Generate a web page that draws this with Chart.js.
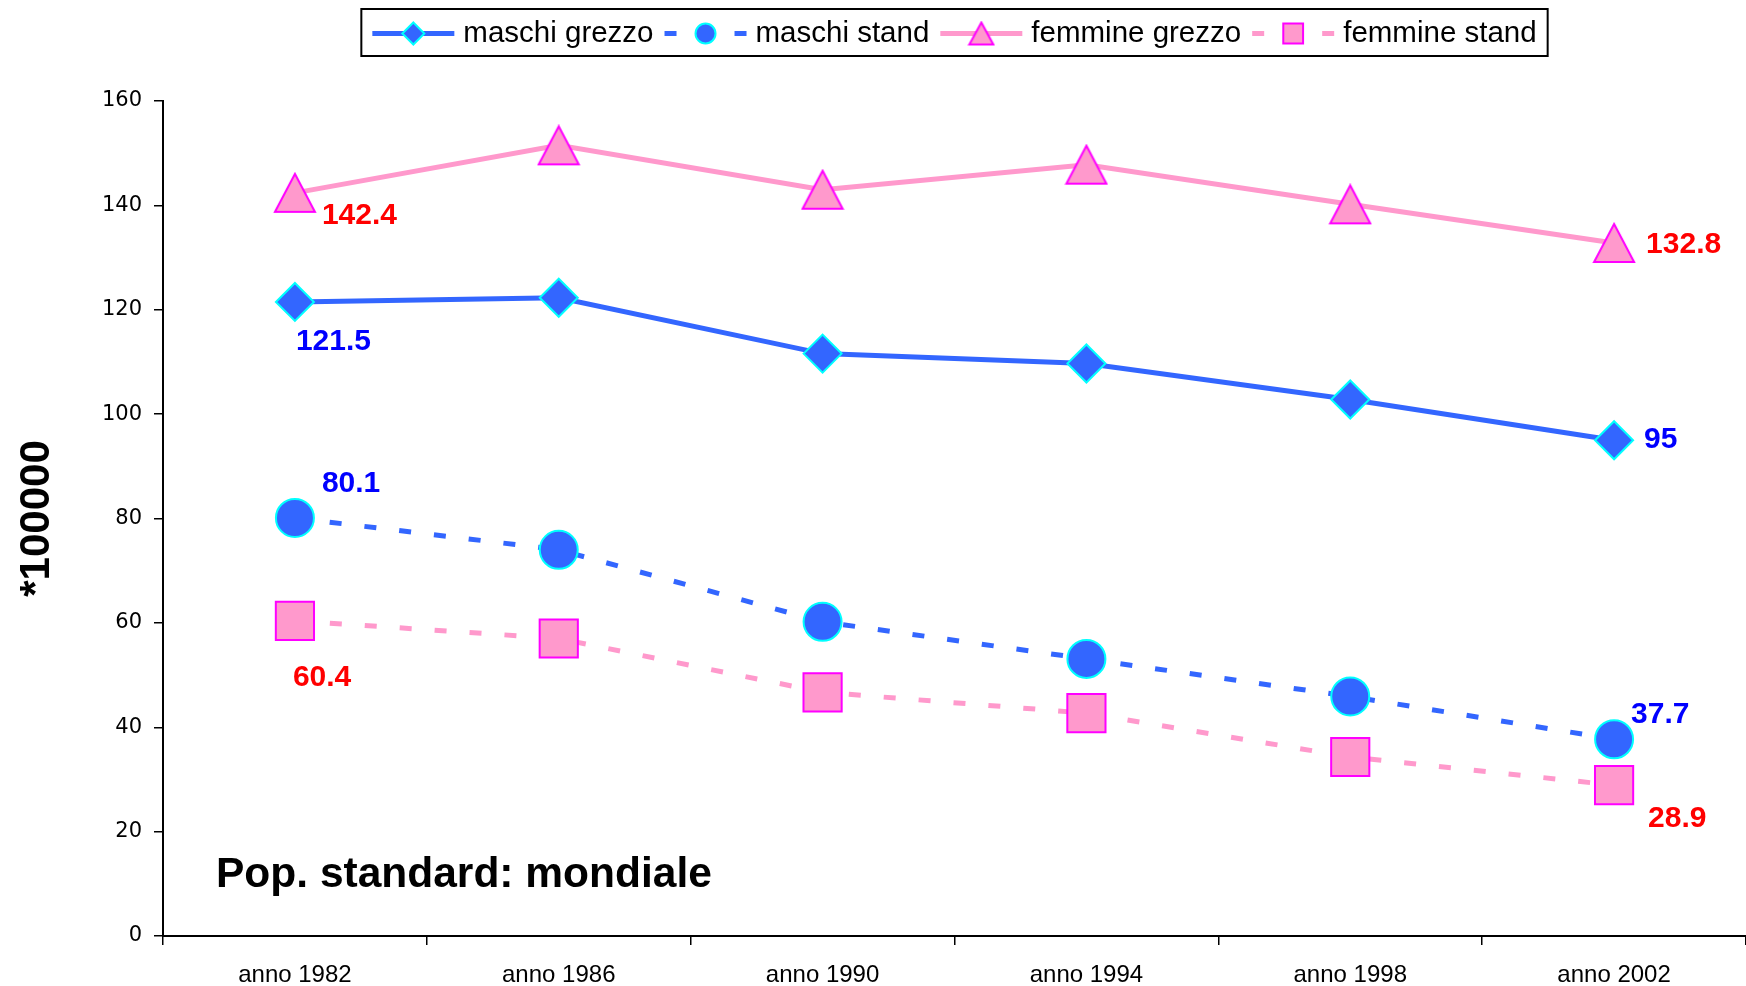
<!DOCTYPE html>
<html>
<head>
<meta charset="utf-8">
<script src="https://cdn.jsdelivr.net/npm/chart.js@4.4.0/dist/chart.umd.min.js"></script>
<style>
  html, body { margin: 0; padding: 0; background: #fff; }
  #wrap { width: 1746px; height: 986px; }
</style>
</head>
<body>
<div id="wrap"><canvas id="chart" width="1746" height="986"></canvas></div>
<script>
// dati (tassi *100000)
const anni = ['anno 1982', 'anno 1986', 'anno 1990', 'anno 1994', 'anno 1998', 'anno 2002'];
const maschiGrezzo = [121.5, 122.3, 111.6, 109.7, 102.8, 95];
const maschiStand = [80.1, 74.0, 60.2, 53.1, 45.9, 37.7];
const femmineGrezzo = [142.4, 151.5, 143.0, 147.8, 140.2, 132.8];
const femmineStand = [60.4, 57.0, 46.7, 42.7, 34.3, 28.9];
const yMin = 0, yMax = 160, yStep = 20;

const BLU = '#3366FF', CIANO = '#00FFFF', ROSA = '#FF99CC', MAGENTA = '#FF00FF';
const FONT = '"Liberation Sans", Arial, sans-serif';

// triangolo centrato sul suo riquadro (come in Excel)
function triangolo(w, h, fill, stroke, bw) {
  const c = document.createElement('canvas');
  c.width = w + bw * 2; c.height = h + bw * 2;
  const g = c.getContext('2d');
  g.beginPath();
  g.moveTo(c.width / 2, bw);
  g.lineTo(c.width - bw, c.height - bw);
  g.lineTo(bw, c.height - bw);
  g.closePath();
  g.fillStyle = fill; g.fill();
  g.lineWidth = bw; g.strokeStyle = stroke; g.stroke();
  return c;
}

function disegnaMarker(ctx, stile, x, y, r, fill, stroke, bw) {
  if (stile instanceof HTMLCanvasElement) {
    ctx.drawImage(stile, x - stile.width / 2, y - stile.height / 2);
    return;
  }
  ctx.save();
  ctx.setLineDash([]);
  ctx.beginPath();
  if (stile === 'circle') {
    ctx.arc(x, y, r, 0, Math.PI * 2);
  } else if (stile === 'rectRot') {
    ctx.moveTo(x, y - r); ctx.lineTo(x + r, y); ctx.lineTo(x, y + r); ctx.lineTo(x - r, y);
    ctx.closePath();
  } else {
    const s = r * Math.SQRT1_2;
    ctx.rect(x - s, y - s, 2 * s, 2 * s);
  }
  ctx.fillStyle = fill; ctx.fill();
  ctx.lineWidth = bw; ctx.strokeStyle = stroke; ctx.stroke();
  ctx.restore();
}

const triGrande = triangolo(40, 38, ROSA, MAGENTA, 2);
const triPiccolo = triangolo(24, 22, ROSA, MAGENTA, 2);

const datasets = [
  {
    label: 'maschi grezzo', data: maschiGrezzo,
    borderColor: BLU, borderWidth: 5,
    pointStyle: 'rectRot', pointRadius: 19, pointBackgroundColor: BLU, pointBorderColor: CIANO, pointBorderWidth: 2,
    legenda: { stile: 'rectRot', r: 11 },
    etichette: { colore: '#0000FF', primo: [1, 40], ultimo: [30, 0] }
  },
  {
    label: 'maschi stand', data: maschiStand,
    borderColor: BLU, borderWidth: 5, borderDash: [12, 23],
    pointStyle: 'circle', pointRadius: 19, pointBackgroundColor: BLU, pointBorderColor: CIANO, pointBorderWidth: 2,
    legenda: { stile: 'circle', r: 10 },
    etichette: { colore: '#0000FF', primo: [27, -34], ultimo: [17, -25] }
  },
  {
    label: 'femmine grezzo', data: femmineGrezzo,
    borderColor: ROSA, borderWidth: 5,
    pointStyle: triGrande, pointRadius: 20, pointBackgroundColor: ROSA, pointBorderColor: MAGENTA, pointBorderWidth: 2,
    legenda: { stile: triPiccolo, r: 11 },
    etichette: { colore: '#FF0000', primo: [27, 23], ultimo: [32, 2] }
  },
  {
    label: 'femmine stand', data: femmineStand,
    borderColor: ROSA, borderWidth: 5, borderDash: [12, 23],
    pointStyle: 'rect', pointRadius: 27, pointBackgroundColor: ROSA, pointBorderColor: MAGENTA, pointBorderWidth: 2,
    legenda: { stile: 'rect', r: 14 },
    etichette: { colore: '#FF0000', primo: [-2, 57], ultimo: [34, 34] }
  }
];

const extra = {
  id: 'extra',
  afterDatasetsDraw(chart) {
    const ctx = chart.ctx;
    ctx.save();
    ctx.font = 'bold 30px ' + FONT;
    ctx.textAlign = 'left';
    ctx.textBaseline = 'middle';
    chart.data.datasets.forEach((ds, i) => {
      const pts = chart.getDatasetMeta(i).data;
      const e = ds.etichette;
      ctx.fillStyle = e.colore;
      [[0, e.primo], [pts.length - 1, e.ultimo]].forEach(([k, off]) => {
        ctx.fillText(String(ds.data[k]), pts[k].x + off[0], pts[k].y + off[1]);
      });
    });
    // nota
    ctx.fillStyle = '#000';
    ctx.font = 'bold 42.5px ' + FONT;
    ctx.fillText('Pop. standard: mondiale', chart.chartArea.left + 53, chart.chartArea.bottom - 61);
    ctx.restore();
  },
  afterDraw(chart) {
    const ctx = chart.ctx;
    const area = chart.chartArea;
    ctx.save();
    ctx.font = '29.5px ' + FONT;
    const campione = 82, gapTesto = 9, gapVoce = 11, padX = 11;
    const dsets = chart.data.datasets;
    const larg = dsets.map(d => ctx.measureText(d.label).width);
    let tot = padX * 2 + gapVoce * (dsets.length - 1);
    larg.forEach(w => { tot += campione + gapTesto + w; });
    const x0 = (area.left + area.right) / 2 - tot / 2;
    const top = 9, alt = 47, cy = top + alt / 2 + 1;
    ctx.lineWidth = 2;
    ctx.strokeStyle = '#000';
    ctx.strokeRect(x0, top, tot, alt);
    let x = x0 + padX;
    dsets.forEach((d, i) => {
      ctx.save();
      ctx.strokeStyle = d.borderColor;
      ctx.lineWidth = 5;
      ctx.setLineDash(d.borderDash || []);
      ctx.beginPath();
      ctx.moveTo(x, cy); ctx.lineTo(x + campione, cy);
      ctx.stroke();
      ctx.restore();
      disegnaMarker(ctx, d.legenda.stile, x + campione / 2, cy, d.legenda.r,
        d.pointBackgroundColor, d.pointBorderColor, 2);
      ctx.fillStyle = '#000';
      ctx.textAlign = 'left';
      ctx.textBaseline = 'middle';
      ctx.fillText(d.label, x + campione + gapTesto, cy);
      x += campione + gapTesto + larg[i] + gapVoce;
    });
    ctx.restore();
  }
};

new Chart(document.getElementById('chart'), {
  type: 'line',
  data: { labels: anni, datasets: datasets },
  options: {
    responsive: false,
    animation: false,
    layout: { autoPadding: false, padding: { top: 101, left: 0, right: 0, bottom: 0 } },
    elements: { line: { tension: 0 } },
    plugins: { legend: { display: false }, tooltip: { enabled: false } },
    scales: {
      x: {
        offset: true,
        grid: { offset: true, drawOnChartArea: false, drawTicks: true, tickLength: 9, color: '#000', lineWidth: 1.5 },
        border: { color: '#000', width: 2 },
        ticks: { color: '#000', font: { family: FONT, size: 24 }, padding: 16, maxRotation: 0, autoSkip: false },
        afterFit: s => { s.height = 50; }
      },
      y: {
        min: yMin, max: yMax,
        grid: { drawOnChartArea: false, drawTicks: true, tickLength: 9, color: '#000', lineWidth: 1.5 },
        border: { color: '#000', width: 2 },
        ticks: { stepSize: yStep, color: '#000', font: { family: '"DejaVu Sans", sans-serif', size: 21 }, padding: 12 },
        title: { display: true, text: '*100000', color: '#000', font: { family: FONT, size: 42, weight: 'bold' }, padding: { top: 12, bottom: 0 } },
        afterFit: s => { s.width = 163; }
      }
    }
  },
  plugins: [extra]
});
</script>
</body>
</html>
